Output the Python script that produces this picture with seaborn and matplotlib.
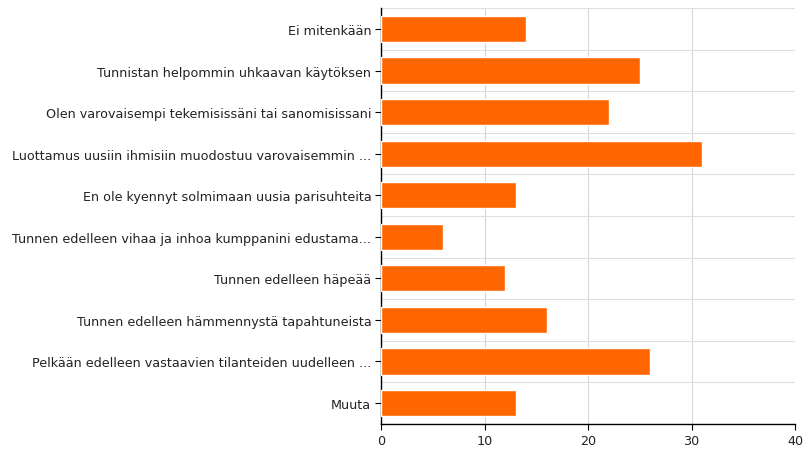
import numpy as np
import pandas as pd
import matplotlib
matplotlib.use('Agg')
import matplotlib.pyplot as plt
import seaborn as sns

categories = [
    'Ei mitenkään',
    'Tunnistan helpommin uhkaavan käytöksen',
    'Olen varovaisempi tekemisissäni tai sanomisissani',
    'Luottamus uusiin ihmisiin muodostuu varovaisemmin ...',
    'En ole kyennyt solmimaan uusia parisuhteita',
    'Tunnen edelleen vihaa ja inhoa kumppanini edustama...',
    'Tunnen edelleen häpeää',
    'Tunnen edelleen hämmennystä tapahtuneista',
    'Pelkään edelleen vastaavien tilanteiden uudelleen ...',
    'Muuta',
]
counts = [14, 25, 22, 31, 13, 6, 12, 16, 26, 13]
x_ticks = [0, 10, 20, 30, 40]

df = pd.DataFrame({'category': categories, 'count': counts})

sns.set_style('white')
plt.rcParams['font.family'] = ['DejaVu Sans']

fig = plt.figure(figsize=(8.05, 4.56), dpi=100)
ax = fig.add_axes([0.4733, 0.0684, 0.5143, 0.9114])

sns.barplot(data=df, x='count', y='category', orient='h', color='#ff6600',
            saturation=1, width=0.63, ax=ax, zorder=3)

ax.set_xlim(0, 40)
ax.set_ylim(len(categories) - 0.5, -0.5)
ax.set_xticks(x_ticks)
ax.set_xlabel('')
ax.set_ylabel('')

# separators between categories
ax.set_yticks(np.arange(-0.5, len(categories), 1.0), minor=True)
ax.grid(True, axis='x', color='#d6d6d6', linewidth=0.8, zorder=0)
ax.grid(True, axis='y', which='minor', color='#e0e0e0', linewidth=0.8, zorder=0)
ax.grid(False, axis='y', which='major')
ax.tick_params(axis='y', which='minor', length=0)

for side in ['top', 'right']:
    ax.spines[side].set_visible(False)
for side in ['left', 'bottom']:
    ax.spines[side].set_color('black')
    ax.spines[side].set_linewidth(1.0)

ax.tick_params(axis='both', which='major', labelsize=9.15, length=4, width=0.8,
               color='black', labelcolor='#222222', direction='out',
               left=True, bottom=True, pad=3)

fig.savefig('out.png', dpi=100)
